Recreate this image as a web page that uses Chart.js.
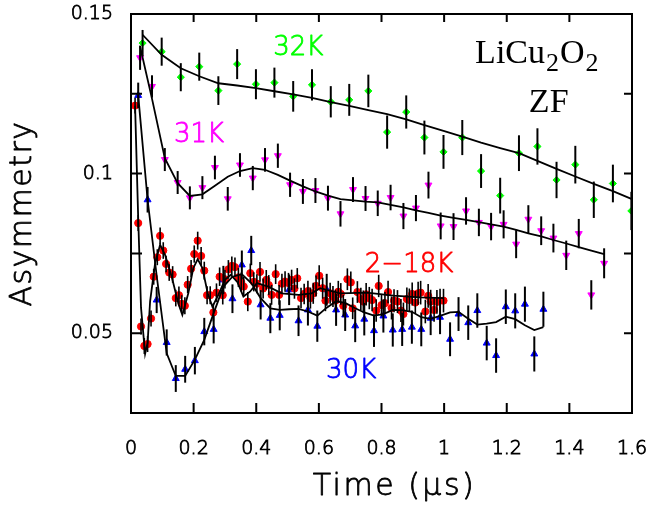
<!DOCTYPE html>
<html><head><meta charset="utf-8">
<script src="https://cdn.jsdelivr.net/npm/chart.js@4.4.1/dist/chart.umd.min.js"></script>
<style>html,body{margin:0;padding:0;background:#fff}#wrap{width:648px;height:507px}</style>
</head><body><div id="wrap"><canvas id="c" width="648" height="507"></canvas></div>
<script>
// ---- tick labels ----
const xTickValues = [0, 0.2, 0.4, 0.6, 0.8, 1, 1.2, 1.4, 1.6];
const yTickValues = [0.025, 0.05, 0.075, 0.1, 0.125, 0.15];
const yLabeledValues = [0.05, 0.1, 0.15];

// ---- 32K (green) ----
const t32 = [0.037,0.098,0.159,0.218,0.279,0.339,0.399,0.458,0.518,0.578,0.638,0.697,0.758,0.818,0.879,0.937,0.998,1.058,1.118,1.179,1.239,1.298,1.359,1.419,1.478,1.539,1.598];
const a32 = [0.1409,0.1382,0.1302,0.1335,0.1260,0.1343,0.1280,0.1285,0.1242,0.1278,0.1225,0.1231,0.1259,0.1130,0.1193,0.1113,0.1068,0.1113,0.1008,0.0931,0.1064,0.1085,0.0980,0.1028,0.0918,0.0969,0.0883];
const e32 = [0.0041,0.0044,0.0044,0.0044,0.0045,0.0047,0.0047,0.0047,0.0048,0.0049,0.0049,0.0050,0.0051,0.0052,0.0052,0.0053,0.0053,0.0055,0.0053,0.0056,0.0056,0.0057,0.0057,0.0059,0.0057,0.0059,0.0060];
const fit32 = [0.1435,0.1372,0.1330,0.1305,0.1283,0.1276,0.1268,0.1258,0.1248,0.1237,0.1224,0.1212,0.1199,0.1186,0.1170,0.1152,0.1134,0.1116,0.1097,0.1080,0.1064,0.1040,0.1015,0.0991,0.0968,0.0945,0.0921];

// ---- 31K (magenta) ----
const t31 = [0.029,0.067,0.108,0.149,0.188,0.228,0.268,0.309,0.348,0.389,0.428,0.469,0.508,0.549,0.589,0.629,0.669,0.709,0.749,0.788,0.829,0.870,0.910,0.950,0.989,1.030,1.070,1.111,1.150,1.190,1.230,1.269,1.310,1.349,1.390,1.430,1.470,1.511];
const a31 = [0.1363,0.1273,0.1044,0.0972,0.0924,0.0956,0.1019,0.0921,0.1027,0.0986,0.1043,0.1056,0.0965,0.0944,0.0947,0.0923,0.0874,0.0950,0.0922,0.0907,0.0925,0.0867,0.0892,0.0964,0.0836,0.0834,0.0883,0.0847,0.0834,0.0841,0.0779,0.0857,0.0821,0.0798,0.0744,0.0812,0.0620,0.0719];
const e31 = [0.0038,0.0035,0.0036,0.0036,0.0036,0.0036,0.0037,0.0037,0.0037,0.0038,0.0037,0.0038,0.0038,0.0039,0.0039,0.0039,0.0040,0.0039,0.0039,0.0040,0.0040,0.0041,0.0041,0.0042,0.0042,0.0042,0.0043,0.0043,0.0043,0.0044,0.0044,0.0044,0.0045,0.0045,0.0046,0.0046,0.0046,0.0047];
const fit31 = [0.1398,0.1235,0.1048,0.0970,0.0930,0.0935,0.0962,0.0990,0.1008,0.1017,0.1012,0.0996,0.0978,0.0960,0.0944,0.0931,0.0920,0.0916,0.0912,0.0910,0.0902,0.0894,0.0885,0.0877,0.0868,0.0861,0.0855,0.0848,0.0841,0.0834,0.0824,0.0813,0.0803,0.0792,0.0781,0.0770,0.0759,0.0748];

// ---- 2-18K (red) ----
const tLow = [0.013,0.023,0.032,0.0425,0.053,0.064,0.0725,0.084,0.093,0.103,0.112,0.122,0.133,0.143,0.153,0.162,0.172,0.181,0.192,0.202,0.213,0.224,0.234,0.243,0.253,0.263,0.273,0.283,0.293,0.300,0.311,0.322,0.332,0.343,0.352,0.360,0.373,0.381,0.392,0.402,0.412,0.422,0.432,0.440,0.449,0.462,0.473,0.482,0.492,0.503,0.513,0.522,0.531,0.543,0.553,0.565,0.573,0.582,0.591,0.601,0.612,0.621,0.636,0.645,0.653,0.662,0.670,0.678,0.691,0.702,0.708,0.723,0.734,0.742,0.751,0.761,0.770,0.783,0.791,0.800,0.811,0.821,0.832,0.840,0.851,0.862,0.870,0.881,0.889,0.898,0.908,0.917,0.925,0.940,0.949,0.957,0.968,0.977,0.987,0.998];
const aLow = [0.1213,0.0845,0.0521,0.0460,0.0466,0.0546,0.0677,0.0738,0.0805,0.0759,0.0717,0.0690,0.0684,0.0610,0.0619,0.0592,0.0586,0.0652,0.0702,0.0748,0.0790,0.0742,0.0696,0.0619,0.0619,0.0565,0.0627,0.0677,0.0619,0.0669,0.0700,0.0711,0.0707,0.0675,0.0660,0.0646,0.0599,0.0688,0.0661,0.0655,0.0692,0.0640,0.0667,0.0651,0.0620,0.0685,0.0620,0.0655,0.0662,0.0657,0.0667,0.0640,0.0672,0.0610,0.0623,0.0632,0.0610,0.0625,0.0648,0.0680,0.0641,0.0602,0.0625,0.0615,0.0602,0.0630,0.0623,0.0586,0.0669,0.0659,0.0578,0.0629,0.0607,0.0599,0.0622,0.0610,0.0604,0.0571,0.0648,0.0588,0.0594,0.0629,0.0579,0.0602,0.0599,0.0571,0.0560,0.0607,0.0604,0.0623,0.0596,0.0625,0.0627,0.0568,0.0617,0.0599,0.0573,0.0598,0.0602,0.0602];
const eLow = [0.0025,0.0025,0.0025,0.0025,0.0025,0.0025,0.0025,0.0025,0.0026,0.0026,0.0026,0.0026,0.0026,0.0026,0.0027,0.0027,0.0027,0.0027,0.0027,0.0027,0.0028,0.0028,0.0028,0.0028,0.0028,0.0028,0.0029,0.0029,0.0029,0.0029,0.0029,0.0029,0.0030,0.0030,0.0030,0.0030,0.0030,0.0030,0.0030,0.0030,0.0031,0.0031,0.0031,0.0031,0.0031,0.0031,0.0031,0.0031,0.0032,0.0032,0.0032,0.0032,0.0032,0.0032,0.0032,0.0032,0.0033,0.0033,0.0033,0.0033,0.0033,0.0033,0.0033,0.0033,0.0034,0.0034,0.0034,0.0034,0.0034,0.0034,0.0034,0.0034,0.0035,0.0035,0.0035,0.0035,0.0035,0.0035,0.0035,0.0035,0.0035,0.0035,0.0036,0.0036,0.0036,0.0036,0.0036,0.0036,0.0036,0.0036,0.0036,0.0036,0.0037,0.0037,0.0037,0.0037,0.0037,0.0037,0.0037,0.0037];
const tLowFit = [0.013,0.023,0.032,0.045,0.053,0.061,0.077,0.093,0.109,0.130,0.151,0.164,0.183,0.199,0.213,0.228,0.245,0.260,0.279,0.300,0.319,0.340,0.359,0.380,0.402,0.439,0.481,0.535,0.577,0.604,0.668,0.753,0.838,0.923,0.998];
const aLowFit = [0.1213,0.0860,0.0580,0.0435,0.0470,0.0600,0.0719,0.0777,0.0745,0.0677,0.0594,0.0557,0.0625,0.0704,0.0732,0.0704,0.0625,0.0583,0.0620,0.0667,0.0683,0.0660,0.0615,0.0630,0.0657,0.0646,0.0625,0.0620,0.0625,0.0641,0.0625,0.0627,0.0618,0.0612,0.0610];

// ---- 30K (blue) ----
const t30 = [0.023,0.053,0.082,0.114,0.143,0.173,0.204,0.234,0.264,0.295,0.324,0.354,0.384,0.414,0.445,0.475,0.505,0.535,0.565,0.595,0.625,0.655,0.684,0.716,0.745,0.776,0.806,0.836,0.866,0.897,0.927,0.957,0.987,1.019,1.046,1.077,1.106,1.136,1.166,1.197,1.227,1.258,1.288,1.317];
const a30 = [0.1245,0.0918,0.0604,0.0471,0.0358,0.0387,0.0414,0.0505,0.0512,0.0667,0.0608,0.0714,0.0759,0.0589,0.0547,0.0556,0.0636,0.0539,0.0573,0.0522,0.0636,0.0573,0.0557,0.0523,0.0544,0.0508,0.0554,0.0510,0.0512,0.0519,0.0512,0.0547,0.0550,0.0481,0.0560,0.0533,0.0571,0.0469,0.0430,0.0583,0.0570,0.0591,0.0435,0.0575];
const e30 = [0.0040,0.0040,0.0041,0.0041,0.0042,0.0042,0.0043,0.0043,0.0044,0.0044,0.0045,0.0045,0.0046,0.0046,0.0047,0.0047,0.0048,0.0048,0.0049,0.0049,0.0050,0.0050,0.0050,0.0051,0.0051,0.0051,0.0052,0.0052,0.0052,0.0052,0.0053,0.0053,0.0053,0.0053,0.0053,0.0054,0.0054,0.0054,0.0054,0.0054,0.0055,0.0055,0.0055,0.0055];
const fit30 = [0.1245,0.0918,0.0680,0.0437,0.0366,0.0366,0.0417,0.0479,0.0563,0.0646,0.0677,0.0685,0.0657,0.0610,0.0578,0.0573,0.0575,0.0576,0.0568,0.0555,0.0580,0.0600,0.0595,0.0578,0.0565,0.0555,0.0560,0.0573,0.0572,0.0567,0.0550,0.0545,0.0554,0.0565,0.0567,0.0545,0.0527,0.0530,0.0535,0.0552,0.0544,0.0525,0.0510,0.0519];

// ---- helpers / styling ----
const SANS = "'DejaVu Sans', 'Liberation Sans', sans-serif";
const SERIF = "'Liberation Serif', 'DejaVu Serif', serif";
const GREEN = '#00ff00', MAGENTA = '#ff00ff', RED = '#ff0000', BLUE = '#0000ff';
const pts = (ts, as) => ts.map((t, i) => ({x: t, y: as[i]}));

const errorSets = [
  {t: t32, a: a32, e: e32},
  {t: t31, a: a31, e: e31},
  {t: tLow, a: aLow, e: eLow},
  {t: t30, a: a30, e: e30}
];
const errorWidths = [2, 2, 1.6, 2];

const annotations = [
  {text: '32K', x: 0.534, y: 0.1370, color: GREEN},
  {text: '31K', x: 0.217, y: 0.1098, color: MAGENTA},
  {text: '2\u221218K', x: 0.888, y: 0.0693, color: RED},
  {text: '30K', x: 0.703, y: 0.0360, color: BLUE}
];

const fitStyle = {showLine: true, borderColor: '#000', borderWidth: 1.8, pointRadius: 0, pointHoverRadius: 0, order: 0, tension: 0};
const ptStyle = (c, style, r, rot) => ({showLine: false, pointStyle: style, pointRadius: r, pointHoverRadius: r, pointRotation: rot || 0, pointBackgroundColor: c, pointBorderColor: c, pointBorderWidth: 1, order: 1});

// light text drawn with a thin outline of the same colour
function fillStroked(ctx, text, x, y, w) {
  ctx.save();
  ctx.lineWidth = w;
  ctx.lineJoin = 'round';
  ctx.strokeStyle = ctx.fillStyle;
  ctx.strokeText(text, x, y);
  ctx.restore();
  ctx.fillText(text, x, y);
}

// axis-title tweak: letter spacing, outline and horizontal shift
const styleTitle = (spacing, dx) => s => {
  if (s._titlePatched) return;
  s._titlePatched = true;
  const orig = s.drawTitle;
  s.drawTitle = function () {
    const c = this.ctx;
    const f = c.fillText;
    c.save();
    c.letterSpacing = spacing;
    c.translate(dx, 0);
    c.fillText = function (t, x, y, m) {
      this.save(); this.lineWidth = 0.8; this.lineJoin = 'round'; this.strokeStyle = this.fillStyle;
      this.strokeText(t, x, y, m); this.restore();
      f.call(this, t, x, y, m);
    };
    orig.call(this);
    delete c.fillText;
    c.restore();
  };
};

const decor = {
  id: 'decor',
  afterDatasetsDraw(chart) {
    const {ctx, scales: {x, y}} = chart;
    ctx.save();
    ctx.strokeStyle = '#000';
    errorSets.forEach((s, k) => {
      ctx.lineWidth = errorWidths[k];
      s.t.forEach((t, i) => {
        const px = x.getPixelForValue(t);
        ctx.beginPath();
        ctx.moveTo(px, y.getPixelForValue(s.a[i] - s.e[i]));
        ctx.lineTo(px, y.getPixelForValue(s.a[i] + s.e[i]));
        ctx.stroke();
      });
    });
    ctx.restore();
  },
  afterDraw(chart) {
    const {ctx, chartArea: a, scales: {x, y}} = chart;
    ctx.save();
    ctx.strokeStyle = '#000';
    ctx.lineWidth = 2;
    ctx.strokeRect(a.left, a.top, a.right - a.left, a.bottom - a.top);
    ctx.beginPath();
    xTickValues.forEach(v => {
      const px = x.getPixelForValue(v);
      if (px <= a.left + 1 || px >= a.right - 1) return;
      ctx.moveTo(px, a.bottom); ctx.lineTo(px, a.bottom - 10);
      ctx.moveTo(px, a.top); ctx.lineTo(px, a.top + 8);
    });
    yTickValues.forEach(v => {
      const py = y.getPixelForValue(v);
      if (py <= a.top + 1 || py >= a.bottom - 1) return;
      ctx.moveTo(a.left, py); ctx.lineTo(a.left + 11, py);
      ctx.moveTo(a.right, py); ctx.lineTo(a.right - 8, py);
    });
    ctx.stroke();

    // temperature labels
    ctx.font = "300 26px " + SANS;
    ctx.textAlign = 'center';
    ctx.textBaseline = 'alphabetic';
    annotations.forEach(l => {
      ctx.fillStyle = l.color;
      fillStroked(ctx, l.text, x.getPixelForValue(l.x), y.getPixelForValue(l.y), 0.8);
    });

    // LiCu2O2 / ZF
    ctx.fillStyle = '#000';
    ctx.textAlign = 'left';
    const big = "34px " + SERIF, small = "26px " + SERIF;
    let px = x.getPixelForValue(1.099);
    const base = y.getPixelForValue(0.1346);
    const parts = [['LiCu', big, 0, 1], ['2', small, 8, 1], ['O', big, 0, 1], ['2', small, 8, 0]];
    parts.forEach(([s, f, dy, gap]) => {
      ctx.font = f;
      ctx.fillText(s, px, base + dy);
      px += ctx.measureText(s).width + gap;
    });
    ctx.font = big;
    ctx.textAlign = 'center';
    ctx.fillText('ZF', x.getPixelForValue(1.334), y.getPixelForValue(0.1194));
    ctx.restore();
  }
};

const tickFont = {family: SANS, size: 19, weight: '300'};

new Chart(document.getElementById('c'), {
  type: 'scatter',
  data: {
    datasets: [
      Object.assign({label: '32K fit', data: pts(t32, fit32)}, fitStyle),
      Object.assign({label: '31K fit', data: pts(t31, fit31)}, fitStyle),
      Object.assign({label: '2-18K fit', data: pts(tLowFit, aLowFit)}, fitStyle),
      Object.assign({label: '30K fit', data: pts(t30, fit30)}, fitStyle),
      Object.assign({label: '32K', data: pts(t32, a32)}, ptStyle(GREEN, 'rectRot', 3.6)),
      Object.assign({label: '31K', data: pts(t31, a31)}, ptStyle(MAGENTA, 'triangle', 4, 180)),
      Object.assign({label: '2-18K', data: pts(tLow, aLow)}, ptStyle(RED, 'circle', 3.6)),
      Object.assign({label: '30K', data: pts(t30, a30)}, ptStyle(BLUE, 'triangle', 4))
    ]
  },
  options: {
    responsive: false,
    animation: false,
    devicePixelRatio: 1,
    layout: {padding: {left: 0, right: 16, top: 14, bottom: 0}},
    plugins: {legend: {display: false}, tooltip: {enabled: false}},
    scales: {
      x: {
        type: 'linear', min: 0, max: 1.6,
        afterBuildTicks: s => { s.ticks = xTickValues.map(v => ({value: v})); },
        afterFit: s => { s.height = 94; s.paddingLeft = 0; s.paddingRight = 0; },
        afterUpdate: styleTitle('2.5px', 13),
        grid: {display: false, drawTicks: false}, border: {display: false},
        ticks: {padding: 25, color: '#000', textStrokeColor: '#000', textStrokeWidth: 0.8, autoSkip: false, maxRotation: 0, font: tickFont, callback: v => String(v)},
        title: {display: true, text: 'Time (\u03bcs)', color: '#000', font: {family: SANS, size: 30, weight: '300'}, padding: {top: 0, bottom: 2}}
      },
      y: {
        type: 'linear', min: 0.025, max: 0.15,
        afterBuildTicks: s => { s.ticks = yTickValues.map(v => ({value: v})); },
        afterFit: s => { s.width = 131; s.paddingTop = 0; s.paddingBottom = 0; },
        afterUpdate: styleTitle('1.5px', 0),
        grid: {display: false, drawTicks: false}, border: {display: false},
        ticks: {padding: 18, color: '#000', textStrokeColor: '#000', textStrokeWidth: 0.8, autoSkip: false, font: tickFont,
          callback: v => yLabeledValues.some(l => Math.abs(l - v) < 1e-9) ? String(v) : ''},
        title: {display: true, text: 'Asymmetry', color: '#000', font: {family: SANS, size: 30, weight: '300'}, padding: {top: 5, bottom: 0}}
      }
    }
  },
  plugins: [decor]
});
</script>
</body></html>
